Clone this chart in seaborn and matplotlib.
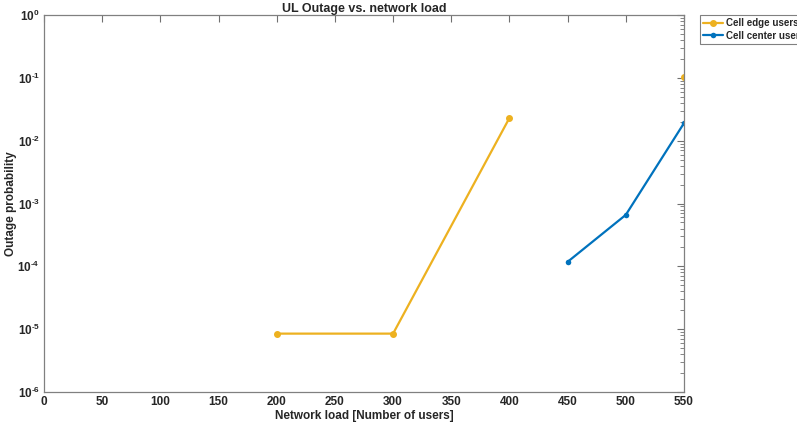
import numpy as np
import pandas as pd
import matplotlib
matplotlib.use("Agg")
import matplotlib.pyplot as plt
import seaborn as sns
from matplotlib.ticker import FuncFormatter, LogLocator, MultipleLocator

# network load values (number of users)
load = [200, 300, 400, 450, 500, 550]
edge_outage = [8.5e-6, 8.5e-6, 2.3e-2, np.nan, np.nan, 1.03e-1]
center_load = [450, 500, 550]
center_outage = [1.18e-4, 6.6e-4, 1.9e-2]

edge_color = "#EDB120"
center_color = "#0072BD"

sns.set_style("white")
plt.rcParams["font.family"] = ["Liberation Sans", "DejaVu Sans"]
plt.rcParams["font.weight"] = "bold"
plt.rcParams["mathtext.fontset"] = "custom"
plt.rcParams["mathtext.rm"] = "Liberation Sans:bold"
plt.rcParams["mathtext.bf"] = "Liberation Sans:bold"

edge_df = pd.DataFrame({"load": load, "outage": edge_outage})
center_df = pd.DataFrame({"load": center_load, "outage": center_outage})

fig = plt.figure(figsize=(7.97, 4.25), dpi=100)
ax = fig.add_axes([0.0552, 0.0776, 0.8030, 0.8871])

# edge users drawn with plain plot so the missing values leave a gap
ax.plot(edge_df["load"], edge_df["outage"], color=edge_color, lw=1.6,
        marker="o", ms=4, label="Cell edge users")
sns.lineplot(data=center_df, x="load", y="outage", ax=ax, color=center_color,
             lw=1.6, marker="o", markersize=4, markeredgewidth=0,
             label="Cell center user")


def fmt(v, p):
    e = int(round(np.log10(v)))
    if e < 0:
        return r"$\mathrm{10^{\text{-}%d}}$" % (-e)
    return r"$\mathrm{10^{%d}}$" % e


ax.set_yscale("log")
ax.set_xlim(0, 550)
ax.set_ylim(1e-6, 1)
ax.xaxis.set_major_locator(MultipleLocator(50))
ax.yaxis.set_major_locator(LogLocator(base=10, numticks=10))
ax.yaxis.set_minor_locator(LogLocator(base=10, subs=np.arange(2, 10), numticks=10))
ax.yaxis.set_major_formatter(FuncFormatter(fmt))
ax.yaxis.set_minor_formatter(FuncFormatter(lambda v, p: ""))

ax.tick_params(axis="both", which="both", direction="in", top=True, right=True,
               colors="#707070", labelcolor="#262626", labelsize=8.5)
ax.tick_params(which="major", length=5, pad=3)
ax.tick_params(which="minor", length=3)
for s in ax.spines.values():
    s.set_color("#808080")
    s.set_linewidth(0.9)

ax.set_title("UL Outage vs. network load", fontsize=9, fontweight="bold", pad=2)
ax.set_xlabel("Network load [Number of users]", fontsize=8.5, fontweight="bold", labelpad=1)
ax.set_ylabel("Outage probability", fontsize=8.5, fontweight="bold")
ax.yaxis.set_label_coords(-0.042, 0.5)

leg = ax.legend(loc="upper left", bbox_to_anchor=(700 / 797, 1 - 15 / 425),
                bbox_transform=fig.transFigure, frameon=True, fancybox=False,
                fontsize=7, handlelength=2.1, borderpad=0.3, labelspacing=0.3,
                handletextpad=0.3, borderaxespad=0)
leg.get_frame().set_edgecolor("#606060")
leg.get_frame().set_linewidth(0.8)

fig.savefig("out.png", dpi=100)
